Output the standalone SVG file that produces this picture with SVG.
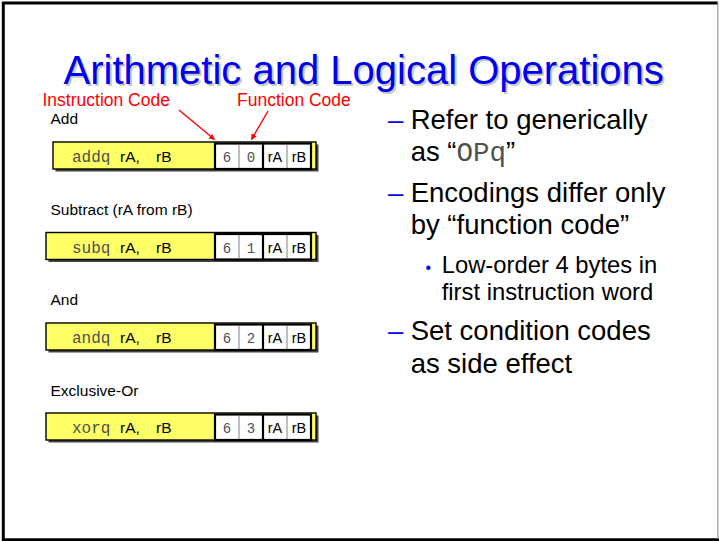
<svg xmlns="http://www.w3.org/2000/svg" width="719" height="541" viewBox="0 0 719 541">
  <defs>
    <style>
      .sans { font-family: "Liberation Sans", Arial, sans-serif; }
      .mono { font-family: "Liberation Mono", "Courier New", monospace; }
      .title { font-size: 40px; fill: #0000f0; }
      .title-shadow { font-size: 40px; fill: #c8c8c8; }
      .red { font-size: 17.5px; fill: #ff0000; }
      .label { font-size: 15.5px; fill: #000; }
      .op { font-size: 16px; fill: #505050; }
      .reg { font-size: 15.5px; fill: #000; }
      .nib { font-size: 14px; fill: #505050; }
      .cellreg { font-size: 14.5px; fill: #000; }
      .bullet { font-size: 27.5px; fill: #000; }
      .dash { font-size: 27.5px; fill: #0000f0; }
      .sub { font-size: 23.8px; fill: #000; }
      .dot { font-size: 16px; fill: #0000f0; }
      .shadow { fill: #444; }
      .box { fill: #ffff66; stroke: #000; stroke-width: 1.4; }
      .field { fill: #fff; stroke: #000; stroke-width: 2.2; }
      .thin { stroke: #808080; stroke-width: 1; }
      .thick { stroke: #000; stroke-width: 2.2; }
      .pointer { stroke: #ff0000; stroke-width: 1.4; fill: none; }
    </style>
    <marker id="head" viewBox="0 0 10 10" refX="9" refY="5" markerWidth="6" markerHeight="6" orient="auto" markerUnits="userSpaceOnUse">
      <path d="M0,0 L10,5 L0,10 z" fill="#ff0000"/>
    </marker>
    <!-- encoding field: two bytes, each split into two nibbles -->
    <g id="fieldFrame">
      <rect class="field" x="215" y="1.5" width="96" height="25.5"/>
      <line class="thin" x1="239" y1="2.5" x2="239" y2="26"/>
      <line class="thick" x1="263" y1="1.5" x2="263" y2="27"/>
      <line class="thin" x1="287" y1="2.5" x2="287" y2="26"/>
    </g>
  </defs>

  <rect x="0" y="0" width="719" height="541" fill="#fff"/>

  <!-- slide frame -->
  <line x1="2" y1="3" x2="718" y2="3" stroke="#000" stroke-width="3"/>
  <line x1="3.3" y1="2" x2="3.3" y2="541" stroke="#000" stroke-width="3"/>
  <line x1="2" y1="539.7" x2="719" y2="539.7" stroke="#000" stroke-width="3"/>
  <line x1="717.8" y1="2" x2="717.8" y2="539" stroke="#999" stroke-width="1.2"/>

  <!-- title -->
  <g id="title">
    <text class="sans title-shadow" x="65.5" y="85.5">Arithmetic and Logical Operations</text>
    <text class="sans title" x="63.5" y="83.5">Arithmetic and Logical Operations</text>
  </g>

  <!-- callout labels -->
  <g id="callouts">
    <text class="sans red" x="42.5" y="105.7">Instruction Code</text>
    <text class="sans red" x="237" y="105.7">Function Code</text>
  </g>

  <!-- add -->
  <g id="add">
    <text class="sans label" x="50.5" y="124">Add</text>
    <g transform="translate(0,142)">
      <rect class="shadow" x="55.5" y="2.5" width="263" height="27"/>
      <rect class="box" x="53" y="0" width="263" height="27"/>
      <text class="mono op" x="72" y="20">addq</text>
      <text class="sans reg" x="120" y="20">rA,</text>
      <text class="sans reg" x="156" y="20">rB</text>
      <use href="#fieldFrame"/>
      <text class="mono nib" x="227" y="20" text-anchor="middle">6</text>
      <text class="mono nib" x="251" y="20" text-anchor="middle">0</text>
      <text class="sans cellreg" x="275" y="20" text-anchor="middle">rA</text>
      <text class="sans cellreg" x="299" y="20" text-anchor="middle">rB</text>
    </g>
  </g>

  <!-- subtract -->
  <g id="subtract">
    <text class="sans label" x="50.5" y="215">Subtract (rA from rB)</text>
    <g transform="translate(0,232.5)">
      <rect class="shadow" x="48.5" y="2.5" width="270" height="27"/>
      <rect class="box" x="46" y="0" width="270" height="27"/>
      <text class="mono op" x="72" y="20">subq</text>
      <text class="sans reg" x="120" y="20">rA,</text>
      <text class="sans reg" x="156" y="20">rB</text>
      <use href="#fieldFrame"/>
      <text class="mono nib" x="227" y="20" text-anchor="middle">6</text>
      <text class="mono nib" x="251" y="20" text-anchor="middle">1</text>
      <text class="sans cellreg" x="275" y="20" text-anchor="middle">rA</text>
      <text class="sans cellreg" x="299" y="20" text-anchor="middle">rB</text>
    </g>
  </g>

  <!-- and -->
  <g id="and">
    <text class="sans label" x="50.5" y="305">And</text>
    <g transform="translate(0,323)">
      <rect class="shadow" x="48.5" y="2.5" width="270" height="27"/>
      <rect class="box" x="46" y="0" width="270" height="27"/>
      <text class="mono op" x="72" y="20">andq</text>
      <text class="sans reg" x="120" y="20">rA,</text>
      <text class="sans reg" x="156" y="20">rB</text>
      <use href="#fieldFrame"/>
      <text class="mono nib" x="227" y="20" text-anchor="middle">6</text>
      <text class="mono nib" x="251" y="20" text-anchor="middle">2</text>
      <text class="sans cellreg" x="275" y="20" text-anchor="middle">rA</text>
      <text class="sans cellreg" x="299" y="20" text-anchor="middle">rB</text>
    </g>
  </g>

  <!-- exclusive-or -->
  <g id="xor">
    <text class="sans label" x="50.5" y="395.7">Exclusive-Or</text>
    <g transform="translate(0,413)">
      <rect class="shadow" x="48.5" y="2.5" width="270" height="27"/>
      <rect class="box" x="46" y="0" width="270" height="27"/>
      <text class="mono op" x="72" y="20">xorq</text>
      <text class="sans reg" x="120" y="20">rA,</text>
      <text class="sans reg" x="156" y="20">rB</text>
      <use href="#fieldFrame"/>
      <text class="mono nib" x="227" y="20" text-anchor="middle">6</text>
      <text class="mono nib" x="251" y="20" text-anchor="middle">3</text>
      <text class="sans cellreg" x="275" y="20" text-anchor="middle">rA</text>
      <text class="sans cellreg" x="299" y="20" text-anchor="middle">rB</text>
    </g>
  </g>

  <!-- pointers from callouts to the code nibbles -->
  <g id="connectors">
    <line class="pointer" x1="179" y1="110" x2="214.5" y2="139.5" marker-end="url(#head)"/>
    <line class="pointer" x1="268" y1="111" x2="251.5" y2="139.5" marker-end="url(#head)"/>
  </g>

  <!-- bullet list -->
  <g id="notes">
    <text class="sans dash" x="388" y="129.3">–</text>
    <text class="sans bullet" x="410.7" y="129.3">Refer to generically</text>
    <text class="sans bullet" x="410.7" y="160.5">as “<tspan class="mono" fill="#505050">OPq</tspan>”</text>

    <text class="sans dash" x="388" y="201.7">–</text>
    <text class="sans bullet" x="410.7" y="201.7">Encodings differ only</text>
    <text class="sans bullet" x="410.7" y="234">by “function code”</text>

    <text class="sans dot" x="425.5" y="272.7">•</text>
    <text class="sans sub" x="441.7" y="272.7">Low-order 4 bytes in</text>
    <text class="sans sub" x="441.7" y="300">first instruction word</text>

    <text class="sans dash" x="388" y="340">–</text>
    <text class="sans bullet" x="410.7" y="340">Set condition codes</text>
    <text class="sans bullet" x="410.7" y="373.3">as side effect</text>
  </g>
</svg>
